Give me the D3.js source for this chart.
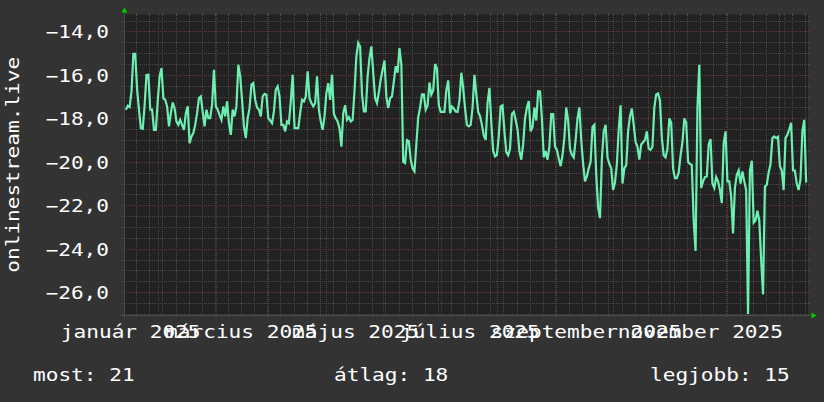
<!DOCTYPE html>
<head>
  <meta charset="utf-8">
  <script src="https://cdn.jsdelivr.net/npm/d3@7/dist/d3.min.js"></script>
  <style>
    body { margin:0; background:#333333; }
    text { font-family: "DejaVu Sans Mono", monospace; fill:#ffffff; }
  </style>
</head>

<body>
  <script>
    // daily values, first one is 2024-12-15
    var firstDay = "2024-12-15";
    var values = [
      -17.61, -17.42, -17.48, -16.76, -15.03, -15.03, -16.68, -17.6, -18.45, -18.48,
      -17.4, -16.0, -15.99, -17.6, -17.6, -18.53, -18.53,
      -17.22, -16.07, -15.69, -17.07, -17.15, -17.45, -18.37, -17.76, -17.27, -17.53,
      -18.14, -18.3, -18.07, -18.3, -18.53, -17.76, -17.45, -19.14, -18.83, -18.68,
      -18.3, -17.76, -17.07, -16.99, -17.7, -18.37, -17.6, -17.99, -17.99, -17.37,
      -15.76, -17.45, -17.6, -17.85, -18.07, -17.45, -17.91, -17.22, -18.22, -18.76,
      -17.6, -17.91, -17.45, -15.53, -16.07, -17.15, -18.37, -18.91, -17.99, -17.53,
      -16.45, -16.38, -17.15, -17.5, -17.6, -17.91, -16.99, -16.87, -16.91, -17.99,
      -18.1, -18.22, -17.68, -16.68, -16.53, -16.99, -18.3, -18.3, -18.6, -18.14,
      -18.22, -17.22, -15.99, -18.45, -18.45, -18.45, -17.76, -17.15, -17.22, -16.99,
      -15.84, -17.07, -17.3, -17.45, -17.3, -16.07, -17.6, -18.14, -18.53, -17.91,
      -16.84, -16.38, -17.15, -15.99, -17.8, -17.99, -18.14, -18.45, -19.3, -17.76,
      -17.4, -18.07, -17.95, -18.14, -18.07, -16.76, -15.15, -14.53, -14.7, -16.9,
      -17.68, -17.68, -16.07, -15.23, -14.69, -15.92, -17.07, -17.3, -16.8, -16.2,
      -15.76, -15.34, -17.0, -17.53, -17.07, -16.99, -16.3, -15.6, -15.9, -14.77,
      -15.5, -20.0, -20.06, -19.0, -19.05, -19.9, -20.3, -20.44, -19.2, -17.95,
      -17.5, -16.9, -16.9, -17.6, -17.4, -16.35, -16.9, -16.7, -15.5, -15.7,
      -17.4, -17.7, -17.7, -17.7, -16.7, -16.25, -17.76, -17.45, -17.55, -17.68,
      -17.7, -17.2, -15.9, -16.6, -17.55, -18.3, -18.37, -18.3, -17.5, -16.0,
      -16.9, -17.7, -17.9, -18.3, -18.8, -18.99, -17.3, -16.6, -18.2, -19.5,
      -19.75, -19.68, -18.8, -17.45, -17.4, -18.6, -19.55, -19.7, -19.4, -17.8,
      -17.7, -18.07, -18.5, -19.5, -19.9, -19.2, -18.0, -17.5, -17.2, -18.6,
      -18.4, -17.5, -18.1, -16.75, -16.76, -18.0, -19.8, -19.5, -19.9, -19.3,
      -17.8, -17.8, -19.3, -19.45, -19.85, -20.2, -19.7, -18.9, -17.5, -18.1,
      -19.4, -19.68, -19.8, -19.0, -18.0, -17.5, -19.0, -20.1, -20.9, -20.67,
      -20.3, -20.0, -18.4, -18.3, -20.6, -22.1, -22.59, -19.9, -18.6, -18.3,
      -19.8, -20.1, -20.3, -21.3, -20.95, -20.1, -18.5, -17.4, -21.0, -20.3,
      -20.15, -18.6, -17.9, -17.55, -18.3, -19.1, -19.3, -19.9, -19.2, -19.1,
      -19.0, -18.6, -19.4, -19.45, -19.3, -17.5, -16.9, -16.85, -17.2, -18.9,
      -19.7, -19.8, -19.4, -18.0, -18.2, -20.3, -20.75, -20.75, -20.5, -19.7,
      -19.1, -18.0, -18.2, -20.0, -20.1, -20.14, -22.7, -24.1, -17.53, -15.53,
      -21.2, -20.9, -20.7, -20.67, -19.2, -18.95, -21.0, -21.2, -20.7, -20.9,
      -21.3, -21.9, -19.15, -18.6, -20.9, -20.9, -21.6, -23.3, -21.2, -20.6,
      -20.4, -21.0, -20.44, -20.9, -21.3, -27.0, -20.4, -19.95, -22.8, -22.7,
      -22.25, -22.7, -24.5, -26.1, -21.15, -21.06, -20.5, -20.1, -18.91, -18.83,
      -18.91, -18.85, -20.2, -20.4, -21.3, -18.9, -18.76, -18.5, -18.2, -20.4,
      -20.4, -21.0, -21.3, -20.8, -18.6, -18.07, -20.95
    ];

    var yTicks = [-14, -16, -18, -20, -22, -24, -26];
    var monthDates = ["2025-01-01", "2025-03-01", "2025-05-01", "2025-07-01", "2025-09-01", "2025-11-01"];
    var monthNames = ["január 2025", "március 2025", "május 2025", "július 2025", "szeptember 2025", "november 2025"];
    var legendNames = ["most", "átlag", "legjobb"];
    var legendValues = [21, 18, 15];
    var yTitle = "onlinestream.live";

    var W = 824, H = 402;
    var pLeft = 124, pRight = 808, pTop = 14.5, pBottom = 315;
    var charW = 12.7;

    var svg = d3.select("body").append("svg")
      .attr("width", W)
      .attr("height", H);

    svg.append("rect").attr("width", W).attr("height", H).attr("fill", "#333333");
    svg.append("rect")
      .attr("x", pLeft).attr("y", pTop)
      .attr("width", pRight - pLeft).attr("height", pBottom - pTop)
      .attr("fill", "#222222");

    var parse = d3.utcParse("%Y-%m-%d");
    var start = parse(firstDay);
    var data = values.map(function(v, i) { return { date: d3.utcDay.offset(start, i), value: v }; });

    var x = d3.scaleUtc()
      .domain([parse("2024-12-14"), parse("2025-12-14")])
      .range([pLeft, pRight]);

    var y = d3.scaleLinear()
      .domain([-27.05, -13.22])
      .range([pBottom, pTop]);

    // grid
    var grid = svg.append("g").attr("shape-rendering", "crispEdges");

    var minorY = d3.range(-27, -13.4, 0.5).filter(function(v) { return v % 2 != 0; });
    var minorX = d3.utcDay.range(parse("2024-12-13"), parse("2025-12-14"), 7)
      .map(function(d) { return d3.utcHour.offset(d, 12); })
      .filter(function(d) { return x(d) > pLeft && x(d) < pRight; });
    var majorX = d3.utcMonth.range(parse("2025-01-01"), parse("2025-12-14"));

    function hLines(vals, color) {
      vals.forEach(function(v) {
        var yy = Math.round(y(v)) + 0.5;
        grid.append("line").attr("x1", pLeft - 2).attr("x2", pLeft).attr("y1", yy).attr("y2", yy).attr("stroke", color);
        grid.append("line").attr("x1", pRight).attr("x2", pRight + 2).attr("y1", yy).attr("y2", yy).attr("stroke", color);
        grid.append("line").attr("x1", pLeft).attr("x2", pRight).attr("y1", yy).attr("y2", yy)
          .attr("stroke", color).attr("stroke-dasharray", "1,1");
      });
    }
    function vLines(dates, color) {
      dates.forEach(function(d) {
        var xx = Math.round(x(d)) + 0.5;
        grid.append("line").attr("x1", xx).attr("x2", xx).attr("y1", pTop - 2).attr("y2", pTop).attr("stroke", color);
        grid.append("line").attr("x1", xx).attr("x2", xx).attr("y1", pBottom).attr("y2", pBottom + 2).attr("stroke", color);
        grid.append("line").attr("x1", xx).attr("x2", xx).attr("y1", pTop).attr("y2", pBottom)
          .attr("stroke", color).attr("stroke-dasharray", "1,1");
      });
    }
    hLines(minorY, "#4a4a4a");
    vLines(minorX, "#4a4a4a");
    hLines(yTicks, "#643535");
    vLines(majorX, "#643535");

    // axes
    svg.append("line").attr("x1", pLeft - 4).attr("x2", pRight + 4)
      .attr("y1", pBottom + 0.5).attr("y2", pBottom + 0.5).attr("stroke", "#4a4a4a");
    svg.append("line").attr("x1", pLeft + 0.5).attr("x2", pLeft + 0.5)
      .attr("y1", pBottom + 4).attr("y2", pTop - 4).attr("stroke", "#4a4a4a");
    svg.append("path").attr("d", "M" + (pLeft - 2.5) + "," + (pTop - 2) + "L" + (pLeft + 3.5) + "," + (pTop - 2) + "L" + (pLeft + 0.5) + "," + (pTop - 7) + "Z")
      .attr("fill", "#00cc00");
    svg.append("path").attr("d", "M" + (pRight + 3.5) + "," + (pBottom - 2.5) + "L" + (pRight + 3.5) + "," + (pBottom + 3.5) + "L" + (pRight + 8.5) + "," + (pBottom + 0.5) + "Z")
      .attr("fill", "#00cc00");

    // the line
    var line = d3.line()
      .x(function(d) { return x(d.date); })
      .y(function(d) { return y(d.value); });

    svg.append("path")
      .datum(data)
      .attr("fill", "none")
      .attr("stroke", "#6cefb0")
      .attr("stroke-width", 2.2)
      .attr("d", line);

    function label(str, xx, yy, anchor) {
      return svg.append("text")
        .attr("x", xx).attr("y", yy)
        .attr("text-anchor", anchor)
        .attr("font-size", 17)
        .attr("textLength", str.length * charW)
        .attr("lengthAdjust", "spacingAndGlyphs")
        .text(str);
    }

    // y labels
    yTicks.forEach(function(v) {
      label(d3.format(".1f")(v).replace(".", ","), 109, y(v) + 7, "end");
    });

    // x labels (rrdtool places them a bit left of the month start)
    monthDates.forEach(function(m, i) {
      label(monthNames[i], x(parse(m)) - 27, 338, "middle");
    });

    // y title
    svg.append("text")
      .attr("transform", "translate(18.5," + ((pTop + pBottom) / 2) + ") rotate(-90)")
      .attr("text-anchor", "middle")
      .attr("font-size", 17)
      .attr("textLength", yTitle.length * charW)
      .attr("lengthAdjust", "spacingAndGlyphs")
      .text(yTitle);

    // legend
    label(legendNames[0] + ": " + legendValues[0], 33, 381, "start");
    label(legendNames[1] + ": " + legendValues[1], 334, 381, "start");
    label(legendNames[2] + ": " + legendValues[2], 650, 381, "start");
  </script>
</body>
